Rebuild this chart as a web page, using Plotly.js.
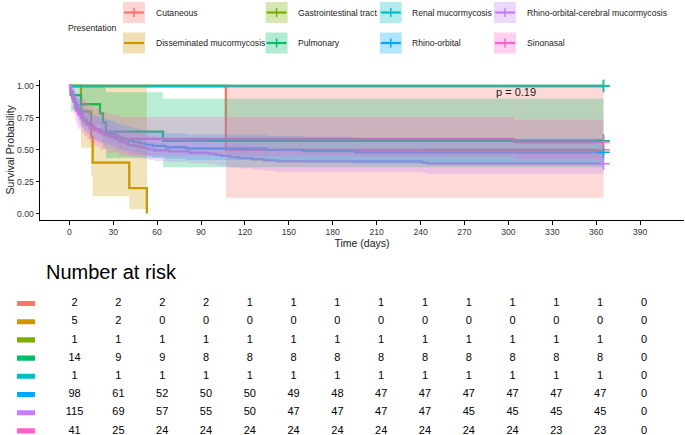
<!DOCTYPE html>
<html>
<head>
<meta charset="utf-8">
<script src="https://cdn.plot.ly/plotly-3.0.1.min.js"></script>
<style>
  html, body { margin: 0; padding: 0; background: #ffffff; }
  #chart { width: 685px; height: 435px; }
</style>
</head>
<body>
<div id="chart"></div>
<script>
// Kaplan-Meier survival by clinical presentation, with 95% confidence bands
// and a number-at-risk table underneath.

const groupNames = ['Cutaneous', 'Disseminated mucormycosis', 'Gastrointestinal tract', 'Pulmonary',
  'Renal mucormycosis', 'Rhino-orbital', 'Rhino-orbital-cerebral mucormycosis', 'Sinonasal'];
const groupColors = ['#F8766D', '#CD9600', '#7CAE00', '#00BE67', '#00BFC4', '#00A9FF', '#C77CFF', '#FF61CC'];

// Step curves: each value holds from its time until the next time (days)
const cutTime  = [0, 107];
const cutSurv  = [1, 0.5];
const cutLower = [1, 0.125];
const cutUpper = [1, 1];

const disTime  = [0, 8, 15, 16, 41, 53];
const disSurv  = [1, 0.8, 0.6, 0.4, 0.2, 0];
const disLower = [1, 0.516, 0.293, 0.137, 0.035, null];
const disUpper = [1, 1, 1, 1, 1, null];

const giTime  = [0];
const giSurv  = [1];
const giLower = [1];
const giUpper = [1];

const pulTime  = [0, 1, 8, 21, 23, 25, 64];
const pulSurv  = [1, 0.929, 0.857, 0.786, 0.714, 0.643, 0.571];
const pulLower = [1, 0.803, 0.692, 0.598, 0.513, 0.435, 0.363];
const pulUpper = [1, 1, 1, 1, 0.995, 0.950, 0.899];

const renTime  = [0];
const renSurv  = [1];
const renLower = [1];
const renUpper = [1];

const roTime  = [0, 1, 2, 3, 4, 5, 6, 7, 8, 9, 10, 12, 14, 16, 18, 20, 22, 25, 28,
  32, 35, 38, 41, 44, 48, 52, 57, 66, 80, 135, 160, 195];
const roSurv  = [1, 0.959, 0.929, 0.898, 0.867, 0.847, 0.816, 0.796, 0.776, 0.755, 0.735,
  0.714, 0.694, 0.673, 0.663, 0.653, 0.643, 0.633, 0.622,
  0.602, 0.592, 0.582, 0.571, 0.561, 0.551, 0.541, 0.531, 0.520, 0.510, 0.500, 0.490, 0.480];
const roLower = [1, 0.921, 0.879, 0.840, 0.803, 0.779, 0.743, 0.720, 0.697, 0.675, 0.652,
  0.630, 0.608, 0.587, 0.576, 0.565, 0.555, 0.544, 0.534,
  0.513, 0.502, 0.492, 0.481, 0.471, 0.461, 0.451, 0.440, 0.430, 0.420, 0.410, 0.400, 0.390];
const roUpper = [1, 0.999, 0.981, 0.960, 0.937, 0.921, 0.897, 0.880, 0.863, 0.845, 0.828,
  0.810, 0.792, 0.773, 0.764, 0.755, 0.745, 0.736, 0.726,
  0.707, 0.698, 0.688, 0.678, 0.669, 0.659, 0.649, 0.639, 0.629, 0.619, 0.610, 0.600, 0.589];

const rocmTime  = [0, 1, 2, 3, 4, 5, 6, 7, 8, 10, 12, 14, 17, 20, 24, 28,
  31, 34, 37, 40, 44, 47, 51, 54, 58, 68, 82, 95, 100, 104, 110, 116, 125, 133, 142, 241, 245];
const rocmSurv  = [1, 0.957, 0.922, 0.887, 0.852, 0.826, 0.800, 0.774, 0.748, 0.722, 0.696, 0.670, 0.652, 0.635, 0.617, 0.600,
  0.583, 0.565, 0.557, 0.539, 0.530, 0.522, 0.513, 0.504, 0.496, 0.487, 0.478,
  0.470, 0.461, 0.452, 0.443, 0.435, 0.426, 0.417, 0.409, 0.400, 0.391];
const rocmLower = [1, 0.920, 0.874, 0.831, 0.790, 0.760, 0.730, 0.701, 0.673, 0.644, 0.616, 0.589, 0.571, 0.553, 0.535, 0.517,
  0.499, 0.482, 0.473, 0.455, 0.447, 0.438, 0.429, 0.421, 0.412, 0.404, 0.395,
  0.387, 0.378, 0.370, 0.361, 0.353, 0.345, 0.336, 0.328, 0.320, 0.312];
const rocmUpper = [1, 0.995, 0.972, 0.947, 0.920, 0.898, 0.877, 0.854, 0.832, 0.809, 0.785, 0.761, 0.745, 0.729, 0.713, 0.697,
  0.680, 0.664, 0.655, 0.638, 0.630, 0.622, 0.613, 0.605, 0.596, 0.588, 0.579,
  0.570, 0.562, 0.553, 0.544, 0.536, 0.527, 0.518, 0.509, 0.500, 0.492];

const snTime  = [0, 1, 2, 3, 4, 5, 6, 8, 10, 12, 14, 17, 21, 26, 34, 304];
const snSurv  = [1, 0.951, 0.902, 0.878, 0.829, 0.805, 0.780, 0.756, 0.732, 0.707, 0.683, 0.659, 0.634, 0.610, 0.585, 0.561];
const snLower = [1, 0.888, 0.816, 0.783, 0.722, 0.692, 0.664, 0.635, 0.608, 0.581, 0.554, 0.528, 0.503, 0.477, 0.453, 0.428];
const snUpper = [1, 1, 0.998, 0.984, 0.953, 0.936, 0.918, 0.900, 0.881, 0.861, 0.841, 0.821, 0.800, 0.779, 0.757, 0.736];

// Last follow-up per group (censored curves end with a "+")
const endTime   = [365, 53, 365, 365, 365, 365, 365, 365];
const endCensor = [true, false, true, true, true, true, true, true];

// Number at risk
const riskTimes = [0, 30, 60, 90, 120, 150, 180, 210, 240, 270, 300, 330, 360, 390];
const riskCutaneous    = [2, 2, 2, 2, 1, 1, 1, 1, 1, 1, 1, 1, 1, 0];
const riskDisseminated = [5, 2, 0, 0, 0, 0, 0, 0, 0, 0, 0, 0, 0, 0];
const riskGI           = [1, 1, 1, 1, 1, 1, 1, 1, 1, 1, 1, 1, 1, 0];
const riskPulmonary    = [14, 9, 9, 8, 8, 8, 8, 8, 8, 8, 8, 8, 8, 0];
const riskRenal        = [1, 1, 1, 1, 1, 1, 1, 1, 1, 1, 1, 1, 1, 0];
const riskRhinoOrbital = [98, 61, 52, 50, 50, 49, 48, 47, 47, 47, 47, 47, 47, 0];
const riskROCM         = [115, 69, 57, 55, 50, 47, 47, 47, 47, 45, 45, 45, 45, 0];
const riskSinonasal    = [41, 25, 24, 24, 24, 24, 24, 24, 24, 24, 24, 23, 23, 0];

const yTicks = [0, 0.25, 0.5, 0.75, 1];
const yTickText = ['0.00', '0.25', '0.50', '0.75', '1.00'];
const pValueText = 'p = 0.19';

// ---------------------------------------------------------------------------
const FONT = '"Liberation Sans", Arial, Helvetica, sans-serif';
const W = 685, H = 435;
const px = x => x / W;
const py = y => 1 - y / H;

function rgba(hex, a) {
  const n = parseInt(hex.slice(1), 16);
  return `rgba(${(n >> 16) & 255},${(n >> 8) & 255},${n & 255},${a})`;
}

const curves = [
  { time: cutTime,  surv: cutSurv,  lower: cutLower,  upper: cutUpper },
  { time: disTime,  surv: disSurv,  lower: disLower,  upper: disUpper },
  { time: giTime,   surv: giSurv,   lower: giLower,   upper: giUpper },
  { time: pulTime,  surv: pulSurv,  lower: pulLower,  upper: pulUpper },
  { time: renTime,  surv: renSurv,  lower: renLower,  upper: renUpper },
  { time: roTime,   surv: roSurv,   lower: roLower,   upper: roUpper },
  { time: rocmTime, surv: rocmSurv, lower: rocmLower, upper: rocmUpper },
  { time: snTime,   surv: snSurv,   lower: snLower,   upper: snUpper }
];
const riskRows = [riskCutaneous, riskDisseminated, riskGI, riskPulmonary,
  riskRenal, riskRhinoOrbital, riskROCM, riskSinonasal];

// Closed step-shaped polygon between the lower and upper confidence limits
function bandPolygon(c, end) {
  const n = c.time.length;
  const idx = [];
  for (let i = 0; i < n; i++) if (c.lower[i] !== null) idx.push(i);
  const nextT = i => (i + 1 < n ? c.time[i + 1] : end);
  const xs = [], ys = [];
  idx.forEach(i => { xs.push(c.time[i], nextT(i)); ys.push(c.upper[i], c.upper[i]); });
  idx.slice().reverse().forEach(i => { xs.push(nextT(i), c.time[i]); ys.push(c.lower[i], c.lower[i]); });
  return { xs, ys };
}

const traces = [];

// survival curves
curves.forEach((c, g) => {
  const last = c.surv[c.surv.length - 1];
  traces.push({
    type: 'scatter', mode: 'lines', xaxis: 'x', yaxis: 'y',
    x: c.time.concat([endTime[g]]), y: c.surv.concat([last]),
    line: { color: groupColors[g], width: 2.3, shape: 'hv' },
    hoverinfo: 'skip', showlegend: false
  });
});

// confidence bands drawn over the curves
curves.forEach((c, g) => {
  const p = bandPolygon(c, endTime[g]);
  traces.push({
    type: 'scatter', mode: 'lines', xaxis: 'x', yaxis: 'y',
    x: p.xs, y: p.ys, fill: 'toself', fillcolor: rgba(groupColors[g], 0.27),
    line: { width: 0, color: 'rgba(0,0,0,0)' },
    hoverinfo: 'skip', showlegend: false
  });
});

// censoring marks at last follow-up
curves.forEach((c, g) => {
  if (!endCensor[g]) return;
  traces.push({
    type: 'scatter', mode: 'markers', xaxis: 'x', yaxis: 'y',
    x: [endTime[g]], y: [c.surv[c.surv.length - 1]],
    marker: { symbol: 'cross-thin', size: 9, color: groupColors[g], line: { color: groupColors[g], width: 1.5 } },
    cliponaxis: false, hoverinfo: 'skip', showlegend: false
  });
});

// number-at-risk table
riskRows.forEach((row, g) => {
  traces.push({
    type: 'scatter', mode: 'text', xaxis: 'x2', yaxis: 'y2',
    x: riskTimes, y: riskTimes.map(() => g), text: row.map(String),
    textposition: 'middle center',
    textfont: { family: FONT, size: 11, color: '#000000' },
    cliponaxis: false, hoverinfo: 'skip', showlegend: false
  });
});

// ---------------------------------------------------------------------------
const shapes = [];
const annotations = [];

// legend (4 columns x 2 rows, filled by column)
const keyX = [123, 265.6, 379.8, 494];
const textX = [153.7, 296, 409.7, 524.7];
const rowY = [12.5, 43];
groupNames.forEach((name, g) => {
  const col = Math.floor(g / 2), row = g % 2;
  const x0 = keyX[col], cy = rowY[row];
  shapes.push({ type: 'rect', xref: 'paper', yref: 'paper',
    x0: px(x0), x1: px(x0 + 22), y0: py(cy - 10.5), y1: py(cy + 10.5),
    fillcolor: rgba(groupColors[g], 0.3), line: { width: 0 }, layer: 'above' });
  shapes.push({ type: 'line', xref: 'paper', yref: 'paper',
    x0: px(x0 + 1), x1: px(x0 + 21), y0: py(cy), y1: py(cy),
    line: { color: groupColors[g], width: 2.2 }, layer: 'above' });
  if (endCensor[g]) {
    shapes.push({ type: 'line', xref: 'paper', yref: 'paper',
      x0: px(x0 + 11), x1: px(x0 + 11), y0: py(cy - 4.5), y1: py(cy + 4.5),
      line: { color: groupColors[g], width: 1.5 }, layer: 'above' });
  }
  annotations.push({ xref: 'paper', yref: 'paper', x: px(textX[col]), y: py(cy),
    xanchor: 'left', yanchor: 'middle', showarrow: false, text: name,
    font: { family: FONT, size: 8.6, color: '#1a1a1a' } });
});
annotations.push({ xref: 'paper', yref: 'paper', x: px(66), y: py(28),
  xanchor: 'left', yanchor: 'middle', showarrow: false, text: 'Presentation',
  font: { family: FONT, size: 8.6, color: '#1a1a1a' } });

// p-value
annotations.push({ xref: 'x', yref: 'y', x: 290, y: 0.953, xanchor: 'left', yanchor: 'middle',
  showarrow: false, text: pValueText, font: { family: FONT, size: 11, color: '#1a1a1a' } });

// risk table title and row colour keys
annotations.push({ xref: 'paper', yref: 'paper', x: px(44), y: py(272), xanchor: 'left', yanchor: 'middle',
  showarrow: false, text: 'Number at risk', font: { family: FONT, size: 20, color: '#000000' } });
groupColors.forEach((col, g) => {
  shapes.push({ type: 'rect', xref: 'paper', yref: 'y2',
    x0: px(17), x1: px(35), y0: g - 0.14, y1: g + 0.14,
    fillcolor: col, line: { width: 0 } });
});

const layout = {
  width: W, height: H,
  margin: { l: 0, r: 0, t: 0, b: 0, pad: 0 },
  paper_bgcolor: '#ffffff', plot_bgcolor: '#ffffff',
  showlegend: false,
  font: { family: FONT, color: '#1a1a1a' },
  xaxis: {
    domain: [px(40), px(684)], range: [-20, 420], anchor: 'y',
    tickvals: riskTimes, ticktext: riskTimes.map(String),
    showline: true, linecolor: '#000000', linewidth: 1,
    ticks: 'outside', ticklen: 3.5, tickwidth: 1, tickcolor: '#000000',
    tickfont: { family: FONT, size: 8.6, color: '#333333' },
    showgrid: false, zeroline: false, automargin: false,
    title: { text: 'Time (days)', font: { family: FONT, size: 10.5, color: '#1a1a1a' }, standoff: 3 }
  },
  yaxis: {
    domain: [py(220), py(79.6)], range: [-0.05, 1.05], anchor: 'x',
    tickvals: yTicks, ticktext: yTickText,
    showline: true, linecolor: '#000000', linewidth: 1,
    ticks: 'outside', ticklen: 3.5, tickwidth: 1, tickcolor: '#000000',
    tickfont: { family: FONT, size: 8.6, color: '#333333' },
    showgrid: false, zeroline: false, automargin: false,
    title: { text: 'Survival Probability', font: { family: FONT, size: 10.5, color: '#1a1a1a' }, standoff: 0 }
  },
  xaxis2: {
    domain: [px(45.4), 1], range: [-20, 418.1], anchor: 'y2',
    visible: false, fixedrange: true
  },
  yaxis2: {
    domain: [0, py(294.4)], range: [7.225, -0.5], anchor: 'x2',
    visible: false, fixedrange: true
  },
  shapes: shapes,
  annotations: annotations
};

Plotly.newPlot('chart', traces, layout, { staticPlot: true, displayModeBar: false });
</script>
</body>
</html>
